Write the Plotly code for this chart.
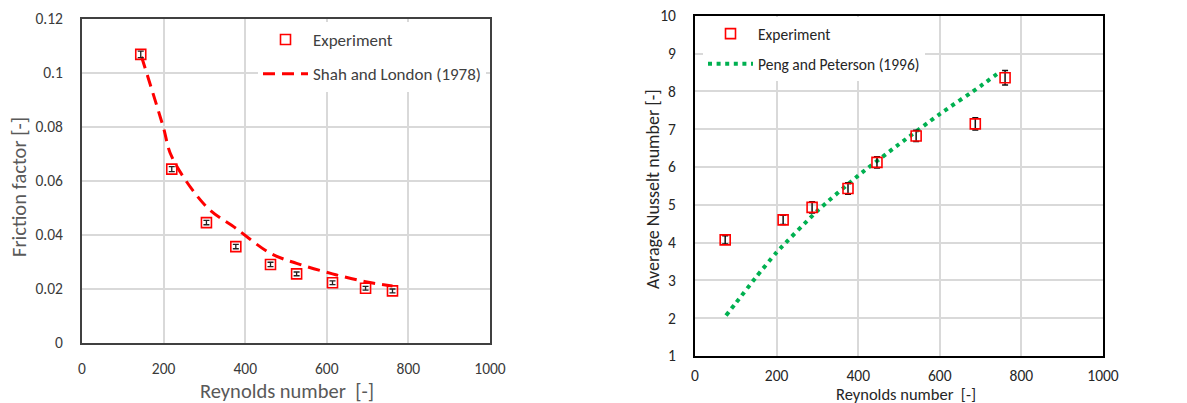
import plotly.graph_objects as go

W, H = 1187, 403

# ---------------- Left chart data ----------------
re_exp_f = [144, 220, 305, 377, 462, 526, 614, 695, 761]
f_exp = [0.1069, 0.0644, 0.0446, 0.0357, 0.0291, 0.0256, 0.0223, 0.0203, 0.0193]
f_err = [0.0012, 0.0009, 0.0008, 0.0008, 0.0008, 0.0007, 0.0007, 0.0007, 0.0007]

re_shah = [146, 199, 220, 305, 377, 462, 526, 614, 695, 761]
f_shah = [0.1060, 0.0801, 0.0690, 0.0505, 0.0425, 0.0332, 0.0295, 0.0256, 0.0227, 0.0211]

# ---------------- Right chart data ----------------
re_exp_nu = [74, 216, 287, 375, 446, 542, 687, 760]
nu_exp = [4.07, 4.60, 4.93, 5.43, 6.12, 6.82, 7.14, 8.36]
nu_err = [0.11, 0.12, 0.15, 0.15, 0.15, 0.15, 0.16, 0.19]

re_peng = [76, 100, 150, 200, 300, 400, 500, 600, 700, 748]
nu_peng = [2.07, 2.40, 3.09, 3.74, 4.84, 5.77, 6.60, 7.40, 8.14, 8.52]

x_ticks = [0, 200, 400, 600, 800, 1000]
f_ticks = [0, 0.02, 0.04, 0.06, 0.08, 0.1, 0.12]
nu_ticks = [1, 2, 3, 4, 5, 6, 7, 8, 9, 10]

FONT = "Carlito, Lato, 'Liberation Sans', sans-serif"


def px(x):
    return x / W


def py(y):
    return 1 - y / H


fig = go.Figure()

# Left chart traces
fig.add_trace(go.Scatter(
    x=re_shah, y=f_shah, mode="lines", name="Shah and London (1978)",
    line=dict(color="#ff0000", width=3, dash="12px,7px", shape="spline", smoothing=1.0),
    xaxis="x", yaxis="y", legend="legend", legendgroup="b", legendrank=2,
))
fig.add_trace(go.Scatter(
    x=re_exp_f, y=f_exp, mode="markers", name="Experiment",
    marker=dict(symbol="square-open", size=10, color="#ff0000", line=dict(width=1.6, color="#ff0000")),
    error_y=dict(type="data", array=f_err, color="#222222", thickness=1.3, width=3),
    xaxis="x", yaxis="y", legend="legend", legendgroup="a", legendrank=1,
))

# Right chart traces
fig.add_trace(go.Scatter(
    x=re_peng, y=nu_peng, mode="lines", name="Peng and Peterson (1996)",
    line=dict(color="#00b050", width=4, dash="4px,4.6px", shape="spline", smoothing=0.6),
    xaxis="x2", yaxis="y2", legend="legend2", legendgroup="d", legendrank=2,
))
fig.add_trace(go.Scatter(
    x=re_exp_nu, y=nu_exp, mode="markers", name="Experiment",
    marker=dict(symbol="square-open", size=10, color="#ff0000", line=dict(width=1.6, color="#ff0000")),
    error_y=dict(type="data", array=nu_err, color="#111111", thickness=1.5, width=3),
    xaxis="x2", yaxis="y2", legend="legend2", legendgroup="c", legendrank=1,
))

grid = "#d9d9d9"

common_axis = dict(
    showgrid=True, gridcolor=grid, gridwidth=1.5, zeroline=False,
    mirror=True, ticks="", automargin=False,
)

fig.update_layout(
    width=W, height=H,
    margin=dict(l=0, r=0, t=0, b=0, pad=0, autoexpand=False),
    paper_bgcolor="white", plot_bgcolor="white",
    font=dict(family=FONT),
    xaxis=dict(
        domain=[px(82), px(490)], range=[0, 1000], tickvals=x_ticks,
        showline=True, linecolor="#404040", linewidth=2, ticklabelstandoff=10,
        tickfont=dict(size=15.5, color="#3a3a3a", family=FONT),
        anchor="y", **common_axis,
    ),
    yaxis=dict(
        domain=[py(343), py(19)], range=[0, 0.12], tickvals=f_ticks,
        showline=True, linecolor="#404040", linewidth=2, ticklabelstandoff=14,
        tickfont=dict(size=15.5, color="#3a3a3a", family=FONT),
        anchor="x", **common_axis,
    ),
    xaxis2=dict(
        domain=[px(695), px(1103)], range=[0, 1000], tickvals=x_ticks,
        showline=True, linecolor="#000000", linewidth=2, ticklabelstandoff=4,
        tickfont=dict(size=15.5, color="#262626", family=FONT),
        anchor="y2", **common_axis,
    ),
    yaxis2=dict(
        domain=[py(356), py(15.7)], range=[1, 10], tickvals=nu_ticks,
        showline=True, linecolor="#000000", linewidth=2, ticklabelstandoff=14,
        tickfont=dict(size=15.5, color="#262626", family=FONT),
        anchor="x2", **common_axis,
    ),
    showlegend=True,
    legend=dict(
        x=px(258), y=py(22), xanchor="left", yanchor="top",
        bgcolor="white", borderwidth=0,
        font=dict(size=17, color="#404040", family=FONT),
        tracegroupgap=9, itemwidth=45,
    ),
    legend2=dict(
        x=px(703), y=py(17), xanchor="left", yanchor="top",
        bgcolor="white", borderwidth=0,
        font=dict(size=15.5, color="#262626", family=FONT),
        tracegroupgap=7, itemwidth=45,
    ),
    annotations=[
        dict(text="Friction factor [-]", x=px(19), y=py(187), xref="paper", yref="paper",
             xanchor="center", yanchor="middle",
             textangle=-90, showarrow=False, font=dict(size=20.5, color="#595959", family=FONT)),
        dict(text="Reynolds number\u00a0 [-]", x=px(287), y=py(391), xref="paper", yref="paper",
             xanchor="center", yanchor="middle",
             showarrow=False, font=dict(size=20.5, color="#595959", family=FONT)),
        dict(text="Average Nusselt number [-]", x=px(653), y=py(189), xref="paper", yref="paper",
             xanchor="center", yanchor="middle",
             textangle=-90, showarrow=False, font=dict(size=18, color="#262626", family=FONT)),
        dict(text="Reynolds number\u00a0 [-]", x=px(906), y=py(393.5), xref="paper", yref="paper",
             xanchor="center", yanchor="middle",
             showarrow=False, font=dict(size=16.5, color="#262626", family=FONT)),
    ],
)

fig.write_html("out.html")
